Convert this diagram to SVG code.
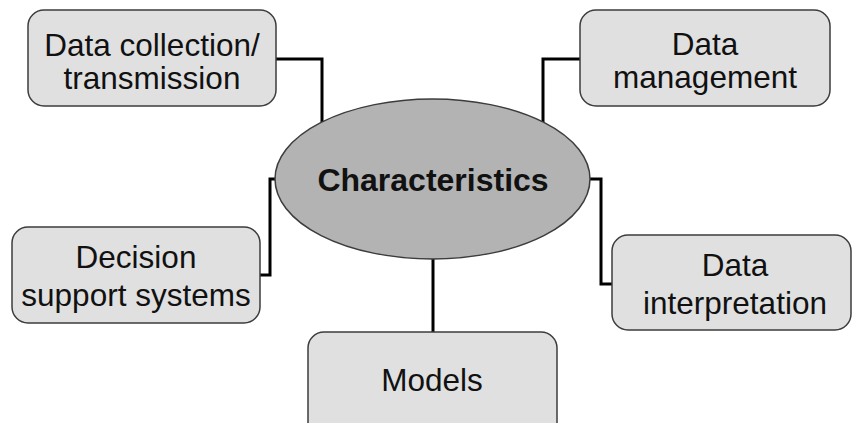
<svg xmlns="http://www.w3.org/2000/svg" width="852" height="423" viewBox="0 0 852 423">
<style>
.box{fill:#e0e0e0;stroke:#3c3c3c;stroke-width:1.5}
.t{font-family:"Liberation Sans",Arial,sans-serif;font-size:31.5px;fill:#111;text-anchor:middle}
.c{fill:none;stroke:#000;stroke-width:3}
</style>
<rect width="852" height="423" fill="#fff"/>
<g id="connectors">
<polyline class="c" points="276,59 322,59 322,122"/>
<polyline class="c" points="580,59 543,59 543,122"/>
<polyline class="c" points="260,275 270,275 270,179 276,179"/>
<polyline class="c" points="589,179 601,179 601,284 612,284"/>
<line class="c" x1="433" y1="259" x2="433" y2="332"/>
</g>
<g id="center">
<ellipse cx="432.5" cy="179" rx="157.5" ry="80" fill="#b3b3b3" stroke="#3c3c3c" stroke-width="1.5"/>
<text x="433" y="191" font-family="'Liberation Sans',Arial,sans-serif" font-size="32" font-weight="bold" fill="#111" text-anchor="middle">Characteristics</text>
</g>
<g id="n1">
<rect class="box" x="28" y="10" width="248" height="96" rx="16"/>
<text class="t" x="152" y="56">Data collection/</text>
<text class="t" x="152" y="89">transmission</text>
</g>
<g id="n2">
<rect class="box" x="580" y="10" width="250" height="96" rx="16"/>
<text class="t" x="705" y="55">Data</text>
<text class="t" x="705" y="88">management</text>
</g>
<g id="n3">
<rect class="box" x="12" y="227" width="248" height="96" rx="16"/>
<text class="t" x="136" y="268">Decision</text>
<text class="t" x="136" y="306">support systems</text>
</g>
<g id="n4">
<rect class="box" x="612" y="235" width="239" height="95" rx="16"/>
<text class="t" x="735" y="276">Data</text>
<text class="t" x="735" y="314">interpretation</text>
</g>
<g id="n5">
<rect class="box" x="308" y="332" width="249" height="110" rx="16"/>
<text class="t" x="432" y="391">Models</text>
</g>
</svg>
